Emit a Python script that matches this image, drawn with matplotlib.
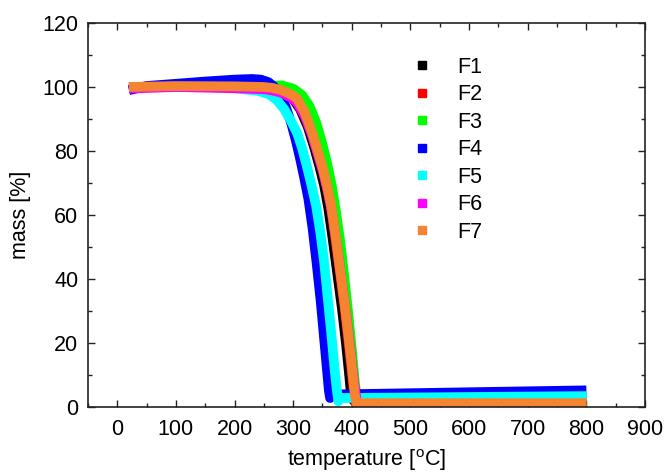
import matplotlib
matplotlib.use("Agg")
import matplotlib.pyplot as plt
from matplotlib.lines import Line2D

plt.rcParams['font.family'] = ['Liberation Sans', 'DejaVu Sans']
plt.rcParams['mathtext.fontset'] = 'custom'
plt.rcParams['mathtext.rm'] = 'Liberation Sans'

labels = ["F1", "F2", "F3", "F4", "F5", "F6", "F7"]
colors = ["#000000", "#FF0000", "#00FF00", "#0000FF", "#00FFFF", "#FF00FF", "#F48430"]

# temperature [°C] / mass [%] for each sample
t_f1 = [20, 150, 250, 268, 285, 300, 312, 325, 336, 345, 353, 360, 367, 375, 383, 390, 395, 399, 403, 800]
m_f1 = [100, 100.2, 99.8, 99.3, 98.2, 96.2, 93, 87.5, 81, 75, 69, 62, 53, 42, 31, 20, 11, 3.2, 2.0, 2.0]

t_f2 = [20, 150, 250, 265, 280, 295, 305, 319, 331, 341, 349, 357, 364, 371, 379, 387, 394, 400, 404, 407, 800]
m_f2 = [100, 100.2, 100, 99.7, 99, 97.8, 96.5, 92, 86, 80, 75, 69, 63, 54, 43, 32, 21, 11, 4, 1.0, 1.0]

t_f3 = [20, 150, 250, 280, 300, 315, 328, 340, 350, 358, 366, 373, 380, 387, 394, 400, 405, 409, 412, 800]
m_f3 = [100, 100.3, 100.3, 100.5, 99.5, 97.5, 94, 88.5, 82, 76, 69, 61, 52, 41, 29, 18, 8, 2, 0.5, 0.5]

t_f4 = [20, 50, 100, 150, 200, 230, 245, 258, 268, 278, 288, 297, 305, 312, 319, 326, 333, 340, 347, 353, 358, 361, 363, 368, 800]
m_f4 = [99, 100.3, 101, 101.7, 102.3, 102.5, 102.3, 101.5, 100, 97.5, 93.5, 88.5, 83, 77.5, 71.5, 65, 56, 45, 33, 21, 11, 5, 2.8, 3.9, 5.2]

t_f5 = [20, 150, 200, 240, 258, 272, 285, 296, 307, 315, 323, 331, 339, 346, 353, 359, 365, 370, 374, 377, 381, 800]
m_f5 = [100, 100, 99.6, 98.8, 97.8, 96, 93, 89.5, 85.5, 81, 75.5, 69.5, 63, 55, 45, 34, 23, 13, 6, 1.8, 2.8, 3.4]

t_f6 = [20, 100, 200, 250, 265, 280, 295, 306, 320, 332, 342, 351, 359, 367, 375, 383, 391, 398, 404, 408, 411, 800]
m_f6 = [99.5, 100, 99.6, 99.3, 98.9, 98.2, 96.8, 95.3, 90.8, 85, 79, 73.5, 67.5, 60, 50, 39, 28, 17, 7.5, 2.5, 0.3, 0.3]

t_f7 = [20, 100, 200, 250, 265, 280, 295, 306, 320, 332, 342, 350, 358, 365, 372, 380, 388, 395, 401, 405, 408, 800]
m_f7 = [100, 100.3, 100.2, 100, 99.7, 99, 97.8, 96.5, 92, 86, 80, 75, 69, 63, 54, 43, 32, 21, 11, 4, 1.2, 1.2]

temps = [t_f1, t_f2, t_f3, t_f4, t_f5, t_f6, t_f7]
masses = [m_f1, m_f2, m_f3, m_f4, m_f5, m_f6, m_f7]

x_ticks = [0, 100, 200, 300, 400, 500, 600, 700, 800, 900]
y_ticks = [0, 20, 40, 60, 80, 100, 120]

fig = plt.figure(figsize=(6.66, 4.75), dpi=100)
ax = fig.add_axes([0.132, 0.1432, 0.8365, 0.8084])

for t, m, c in zip(temps, masses, colors):
    ax.plot(t, m, color=c, lw=7, solid_capstyle='butt', solid_joinstyle='round')

ax.set_xlim(-50, 900)
ax.set_ylim(0, 120)
ax.set_xticks(x_ticks)
ax.set_yticks(y_ticks)
ax.set_xticks([-50 + 100 * i for i in range(10)], minor=True)
ax.set_yticks([10 + 20 * i for i in range(6)], minor=True)

for s in ax.spines.values():
    s.set_linewidth(1.2)
    s.set_color('#222222')

ax.tick_params(which='both', direction='in', top=True, right=True, color='#222222')
ax.tick_params(which='major', length=5, width=1.0, labelsize=15.5, pad=7)
ax.tick_params(which='minor', length=3, width=1.0)
ax.tick_params(axis='x', which='major', pad=9)

ax.set_xlabel(r'temperature [$^{\mathrm{o}}$C]', fontsize=15.5, labelpad=5)
ax.set_ylabel('mass [%]', fontsize=15.5, labelpad=8)

handles = [Line2D([], [], ls='none', marker='s', markersize=6, color=c, mec=c) for c in colors]
ax.legend(handles, labels, loc='upper left', bbox_to_anchor=(0.580, 0.912), frameon=False,
          fontsize=15.5, handlelength=1.0, handletextpad=1.13, labelspacing=0.30,
          borderaxespad=0, borderpad=0)

fig.savefig("out.png", dpi=100)
